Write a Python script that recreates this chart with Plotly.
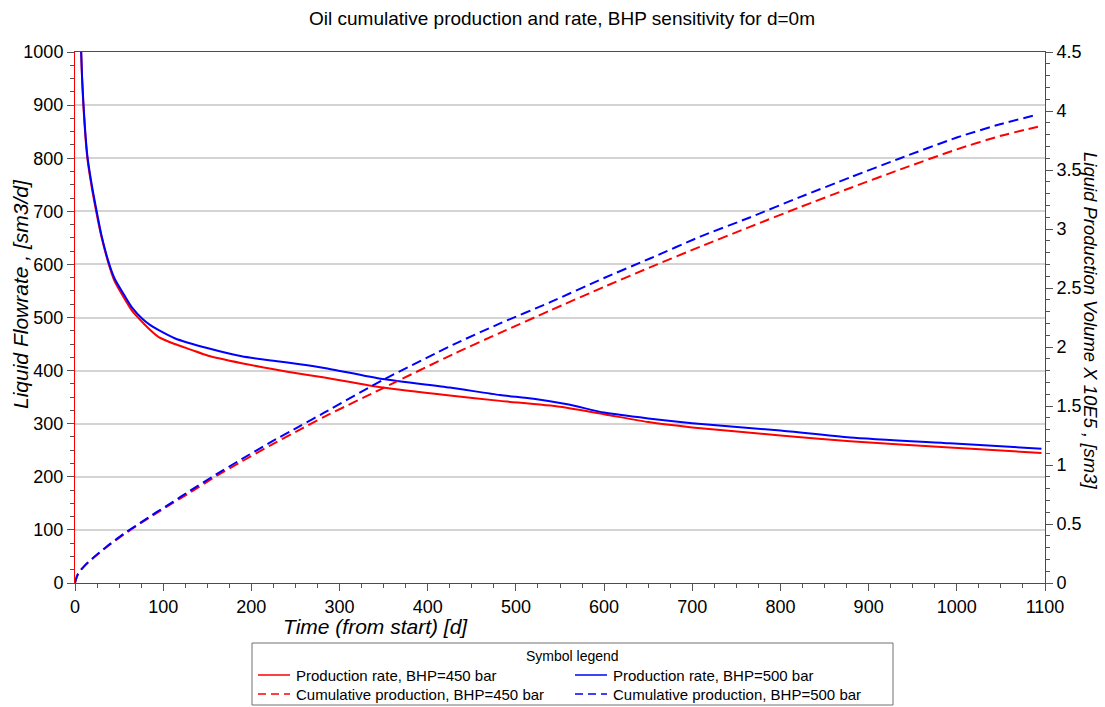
import plotly.graph_objects as go

# ---- data -------------------------------------------------------------
# production rate, BHP = 450 bar  [sm3/d]
t_rate_450 = [1, 2, 4, 7, 9.5, 14, 19, 24, 30, 38, 45, 57, 65, 76, 85, 95, 113, 132,
              151, 189, 227, 255, 283, 349, 425, 482, 550, 600, 650, 700, 800, 879,
              992, 1096]
rate_450 = [2600, 1900, 1350, 1000, 900, 800, 745, 700, 652, 602, 568, 533, 512, 492,
            477, 463, 450, 439, 428, 414, 402, 394, 387, 368, 353, 343, 332, 318, 303,
            293, 278, 267, 255, 245]

# production rate, BHP = 500 bar  [sm3/d]
t_rate_500 = [1, 2, 4, 7, 9.5, 14, 19, 24, 30, 38, 45, 57, 65, 76, 85, 95, 113, 151,
              189, 227, 255, 283, 349, 425, 482, 520, 560, 600, 650, 700, 800, 879,
              992, 1096]
rate_500 = [2600, 1900, 1350, 1000, 905, 805, 750, 705, 655, 605, 573, 539, 518, 498,
            486, 476, 461, 442, 427, 418, 412, 405, 384, 368, 354, 347, 336, 321, 310,
            301, 287, 274, 263, 253]

# cumulative production  [sm3 x 1e5]
t_cum = [0, 1, 3, 6, 9.5, 15, 22, 36, 55, 74, 92, 111.5, 130, 160, 189, 220, 255, 283,
         349, 429, 482, 539, 600, 652, 709, 766, 822, 880, 936, 1000, 1050, 1092]
cum_450 = [0, 0.03, 0.07, 0.105, 0.135, 0.175, 0.22, 0.305, 0.41, 0.505, 0.59, 0.68,
           0.765, 0.905, 1.03, 1.16, 1.30, 1.41, 1.65, 1.94, 2.12, 2.31, 2.51, 2.675,
           2.85, 3.02, 3.185, 3.35, 3.505, 3.675, 3.79, 3.867]
cum_500 = [0, 0.03, 0.07, 0.105, 0.135, 0.176, 0.222, 0.31, 0.415, 0.51, 0.598, 0.69,
           0.78, 0.92, 1.05, 1.185, 1.33, 1.445, 1.72, 2.02, 2.20, 2.38, 2.585, 2.75,
           2.935, 3.10, 3.27, 3.44, 3.60, 3.775, 3.89, 3.97]

series_names = ["Production rate, BHP=450 bar", "Production rate, BHP=500 bar",
                "Cumulative production, BHP=450 bar", "Cumulative production, BHP=500 bar"]

RED = "#ff0000"
BLUE = "#0000ff"
DASH = "10px,5px"
FONT = "Liberation Sans, Arial, sans-serif"

W, H = 1105, 707
ML, MR, MT, MB = 75, 60, 52, 124
PW, PH = W - ML - MR, H - MT - MB


def px(x):
    return (x - ML) / PW


def py(y):
    return (H - MB - y) / PH


fig = go.Figure()
fig.add_trace(go.Scatter(x=t_rate_450, y=rate_450, mode="lines", name=series_names[0],
                         line=dict(color=RED, width=2, shape="spline", smoothing=0.6)))
fig.add_trace(go.Scatter(x=t_cum, y=cum_450, mode="lines", name=series_names[2], yaxis="y2",
                         line=dict(color=RED, width=2, dash=DASH, shape="spline", smoothing=0.6)))
fig.add_trace(go.Scatter(x=t_rate_500, y=rate_500, mode="lines", name=series_names[1],
                         line=dict(color=BLUE, width=2, shape="spline", smoothing=0.6)))
fig.add_trace(go.Scatter(x=t_cum, y=cum_500, mode="lines", name=series_names[3], yaxis="y2",
                         line=dict(color=BLUE, width=2, dash=DASH, shape="spline", smoothing=0.6)))

tickfont = dict(family=FONT, size=18, color="#000000")
TICKC = "#555555"
minor_common = dict(ticks="outside", ticklen=4, tickcolor=TICKC, showgrid=False)

fig.update_layout(
    width=W, height=H,
    margin=dict(l=ML, r=MR, t=MT, b=MB),
    paper_bgcolor="white", plot_bgcolor="white",
    showlegend=False,
    font=dict(family=FONT, color="#000000"),
    title=dict(text="Oil cumulative production and rate, BHP sensitivity for d=0m",
               x=px(562), xref="paper", xanchor="center",
               y=1 - 18 / H, yanchor="middle", font=dict(size=19)),
    xaxis=dict(range=[0, 1100], dtick=100, tick0=0, showgrid=False, zeroline=False,
               showline=True, linecolor=RED, linewidth=1, mirror=True,
               ticks="outside", ticklen=7, tickcolor=TICKC, tickfont=tickfont,
               minor=dict(dtick=25, **minor_common)),
    yaxis=dict(range=[0, 1000], dtick=100, tick0=0, showgrid=True, gridcolor="#d4d4d4",
               gridwidth=1.5, zeroline=False,
               showline=True, linecolor=RED, linewidth=1,
               ticks="outside", ticklen=7, tickcolor=TICKC, tickfont=tickfont,
               minor=dict(dtick=25, **minor_common)),
    yaxis2=dict(range=[0, 4.5], dtick=0.5, tick0=0, overlaying="y", side="right",
                showgrid=False, zeroline=False,
                showline=True, linecolor=RED, linewidth=1,
                ticks="outside", ticklen=7, tickcolor=TICKC, tickfont=tickfont,
                minor=dict(dtick=0.1, **minor_common)),
)

# axis titles
ann = [
    dict(text="<i>Time (from start) [d]</i>", x=px(375), y=py(626), font=dict(size=21)),
    dict(text="<i>Liquid Flowrate , [sm3/d]</i>", x=px(20), y=py(294), textangle=-90,
         font=dict(size=21)),
    dict(text="<i>Liquid Production Volume X 10E5 , [sm3]</i>", x=px(1090), y=py(320),
         textangle=90, font=dict(size=18.5)),
]

# symbol legend box
LX0, LX1, LY0, LY1 = 252, 893, 643, 705
shapes = [dict(type="rect", xref="paper", yref="paper", x0=px(LX0), x1=px(LX1),
               y0=py(LY1), y1=py(LY0), line=dict(color="#707070", width=1),
               fillcolor="white")]
ann.append(dict(text="Symbol legend", x=px((LX0 + LX1) / 2), y=py(656), font=dict(size=14)))

entries = [
    (series_names[0], RED, "solid", 258, 675),
    (series_names[1], BLUE, "solid", 575, 675),
    (series_names[2], RED, "dash", 258, 694),
    (series_names[3], BLUE, "dash", 575, 694),
]
for name, col, dsh, x0, yy in entries:
    shapes.append(dict(type="line", xref="paper", yref="paper", x0=px(x0), x1=px(x0 + 32),
                       y0=py(yy), y1=py(yy),
                       line=dict(color=col, width=1.5, dash="solid" if dsh == "solid" else "8px,5px")))
    ann.append(dict(text=name, x=px(x0 + 36), y=py(yy), xanchor="left", font=dict(size=15)))

for a in ann:
    a.setdefault("xref", "paper")
    a.setdefault("yref", "paper")
    a.setdefault("showarrow", False)
    a.setdefault("xanchor", "center")
    a.setdefault("yanchor", "middle")

fig.update_layout(annotations=ann, shapes=shapes)
fig.write_html("out.html")
